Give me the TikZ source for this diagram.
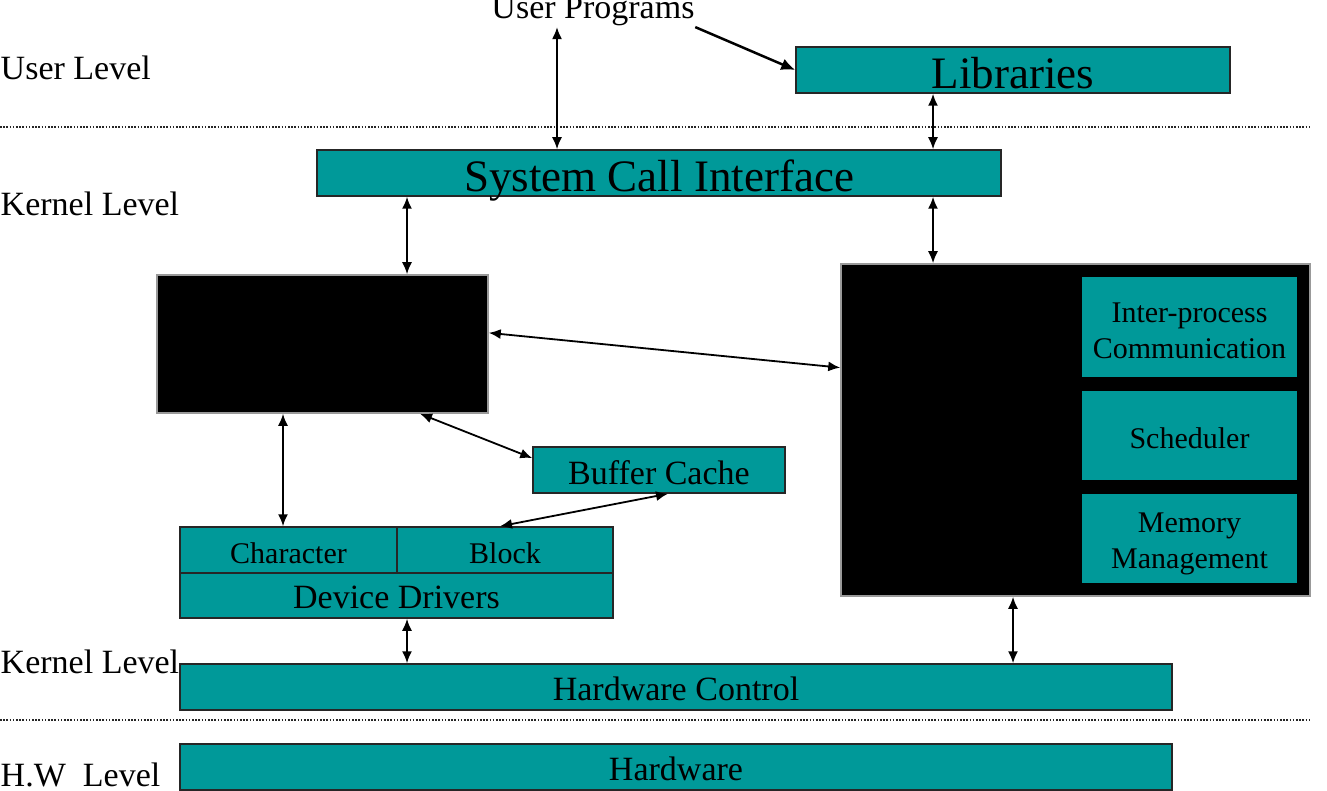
\documentclass[tikz,border=0pt]{standalone}
\usepackage{fontspec}
\setmainfont{Liberation Serif}
\usetikzlibrary{arrows.meta,calc}
\definecolor{boxteal}{RGB}{0,153,153}

\tikzset{every picture/.style={line width=1.5pt},
  tbox/.style={draw=black!85, fill=boxteal, inner sep=0pt, text depth=0pt, font=\fontsize{34}{40}\selectfont},
  sbox/.style={draw=none, fill=boxteal, inner sep=0pt},
  stext/.style={inner sep=0pt, align=center, font=\fontsize{30}{36}\selectfont},
  bbox/.style={draw=black!40, fill=black, inner sep=0pt},
  dar/.style={{Latex[length=12pt,width=10pt]}-{Latex[length=12pt,width=10pt]}, line width=1.8pt},
  lvl/.style={anchor=base west, inner sep=0pt, font=\fontsize{34}{40}\selectfont},
  sep/.style={line width=1.3pt, dash pattern=on 1.6pt off 1.6pt, black!85}
}

\begin{document}
\begin{tikzpicture}[x=1pt,y=1pt,yscale=-1,xscale=1]
\useasboundingbox (0,0) rectangle (1327,791);

%Dotted Lines
\draw [sep]   (0,127) -- (1310,127) ;
\draw [sep]   (0,720) -- (1310,720) ;

% Text Node
\node [lvl] (ul) at (0,80) {User Level};
% Text Node
\node [lvl] (kl) at (0,216) {Kernel Level};
% Text Node
\node [lvl] (kl2) at (0,673) {Kernel Level};
% Text Node
\node [lvl] (hl) at (0,786) {H.W\ \ Level};
% Text Node
\node [anchor=base, inner sep=0pt, font=\fontsize{34}{40}\selectfont] (up) at (593,19) {User Programs};

% Shape: Rectangle
\node [tbox, minimum width=434pt, minimum height=46pt, text height=38pt, font=\fontsize{45}{50}\selectfont] (lib) at (1013,70) {Libraries};
% Shape: Rectangle
\node [tbox, minimum width=684pt, minimum height=46pt, text height=38pt, font=\fontsize{45}{50}\selectfont] (sci) at (659,173) {System Call Interface};
% Shape: Rectangle
\node [bbox, minimum width=331pt, minimum height=138pt] (fs) at (322.5,344) {};
% Shape: Rectangle
\node [bbox, minimum width=469pt, minimum height=332pt] (pc) at (1075.5,430) {};
% Shape: Rectangle
\node [sbox, minimum width=215pt, minimum height=100pt] (ipc) at (1189.5,327) {};
\node [stext] (ipct) at ($(ipc.center)+(0,4)$) {Inter-process\\Communication};
% Shape: Rectangle
\node [sbox, minimum width=215pt, minimum height=89pt] (sch) at (1189.5,435.5) {};
\node [stext] (scht) at ($(sch.center)+(0,3)$) {Scheduler};
% Shape: Rectangle
\node [sbox, minimum width=215pt, minimum height=89pt] (mm) at (1189.5,538.5) {};
\node [stext] (mmt) at ($(mm.center)+(0,5)$) {Memory\\Management};
% Shape: Rectangle
\node [tbox, minimum width=252pt, minimum height=46pt, text height=28pt] (buf) at (659,470) {Buffer Cache};
% Shape: Rectangle
\node [tbox, minimum width=217pt, minimum height=46pt, text height=26pt, font=\fontsize{30}{36}\selectfont] (chr) at (288.5,550) {Character};
% Shape: Rectangle
\node [tbox, minimum width=216pt, minimum height=46pt, text height=26pt, font=\fontsize{30}{36}\selectfont] (blk) at (505,550) {Block};
% Shape: Rectangle
\node [tbox, minimum width=433pt, minimum height=45pt, text height=25pt] (dd) at (396.5,595.5) {Device Drivers};
% Shape: Rectangle
\node [tbox, minimum width=992pt, minimum height=46pt, text height=27pt] (hwc) at (676,687) {Hardware Control};
% Shape: Rectangle
\node [tbox, minimum width=992pt, minimum height=46pt, text height=26pt] (hw) at (676,767) {Hardware};

%Straight Lines
\draw [line width=2.5pt, -{Latex[length=14pt,width=12pt]}]   (up.south east) -- (lib.west) ;
%Straight Lines
\draw [dar]   ([xshift=-36pt]up.south) -- ([xshift=-102pt]sci.north) ;
%Straight Lines
\draw [dar]   ([xshift=-80pt]lib.south) -- ([xshift=274pt]sci.north) ;
%Straight Lines
\draw [dar]   ([xshift=-252pt]sci.south) -- ([xshift=84.5pt]fs.north) ;
%Straight Lines
\draw [dar]   ([xshift=274pt]sci.south) -- ([xshift=-142.5pt]pc.north) ;
%Straight Lines
\draw [dar]   ($(fs.north east)!0.42!(fs.south east)$) -- ($(pc.north west)!0.313!(pc.south west)$) ;
%Straight Lines
\draw [dar]   ([xshift=-39.5pt]fs.south) -- ([xshift=-5.5pt]chr.north) ;
%Straight Lines
\draw [dar]   ([xshift=97.5pt]fs.south) -- ($(buf.north west)!0.25!(buf.south west)$) ;
%Straight Lines
\draw [dar]   ([xshift=9pt]buf.south) -- ([xshift=-5pt]blk.north) ;
%Straight Lines
\draw [dar]   ([xshift=10.5pt]dd.south) -- ([xshift=-269pt]hwc.north) ;
%Straight Lines
\draw [dar]   ([xshift=-62.5pt]pc.south) -- ([xshift=337pt]hwc.north) ;

\end{tikzpicture}
\end{document}
